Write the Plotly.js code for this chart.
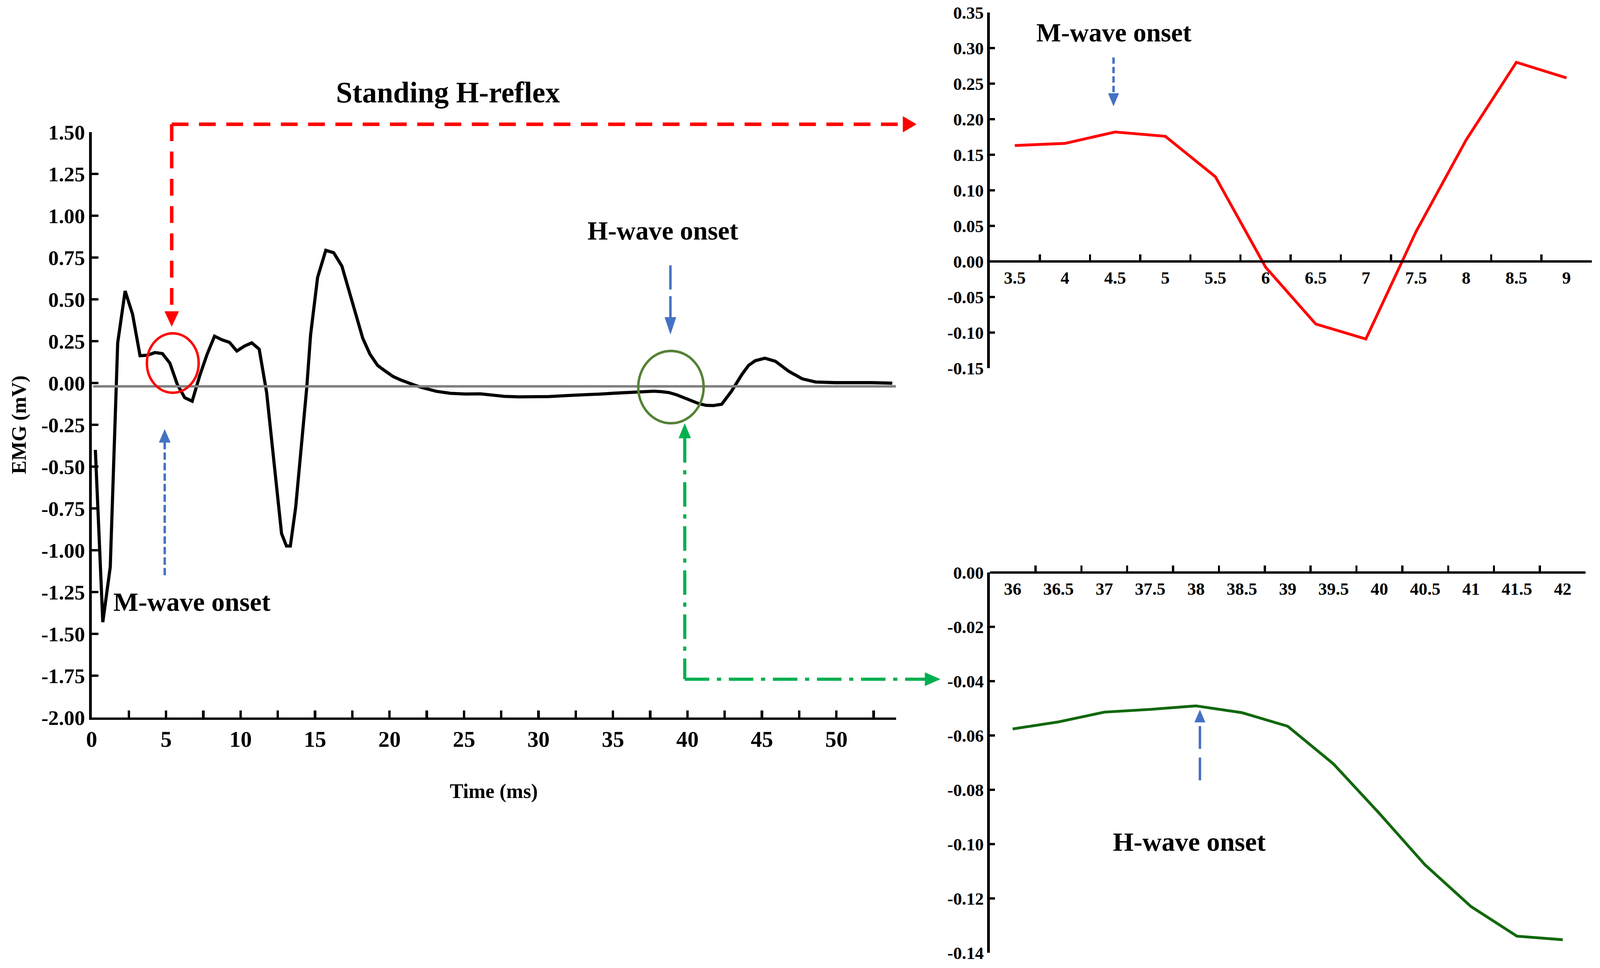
<!DOCTYPE html>
<html>
<head>
<meta charset="utf-8">
<script src="https://cdn.plot.ly/plotly-3.0.1.min.js"></script>
<style>
  html, body { margin: 0; padding: 0; background: #fff; overflow: hidden; }
</style>
</head>
<body>
<div id="chart"></div>
<script>
// main trace: standing H-reflex EMG (ms, mV)
const mainTime = [0.25, 0.75, 1.25, 1.75, 2.25, 2.75, 3.25, 3.75, 4.25, 4.75, 5.25, 5.75, 6.25,
  6.75, 7.25, 7.75, 8.25, 8.75, 9.25, 9.75, 10.25, 10.75, 11.25, 11.75, 12.25, 12.75,
  13.08, 13.34, 13.7, 14.1, 14.44, 14.7, 15.17, 15.72, 16.25, 16.8, 17.3, 17.75, 18.2, 18.68,
  19.2, 19.7, 20.25, 20.75, 21.3, 21.75, 22.2, 22.6, 23.15,
  24.1, 25.1, 26.1, 27.1, 27.7, 28.7, 29.7, 30.7, 32.0, 33.1, 34.2, 35.1,
  35.75, 36.25, 36.75, 37.25, 37.75, 38.25, 38.75, 39.25, 39.75, 40.25, 40.75, 41.25, 41.75,
  42.3, 42.95, 43.65, 44.1, 44.55, 45.2, 45.9, 46.8, 47.7, 48.6, 49.9, 50.6, 51.3, 52.4, 53.75];
const mainEmg = [-0.40, -1.43, -1.10, 0.24, 0.55, 0.41, 0.163, 0.166, 0.182, 0.176, 0.119, -0.008, -0.088,
  -0.109, 0.042, 0.171, 0.280, 0.258, 0.243, 0.191, 0.220, 0.240, 0.202, -0.058, -0.48, -0.90,
  -0.975, -0.975, -0.742, -0.36, -0.03, 0.288, 0.631, 0.793, 0.779, 0.699, 0.544, 0.40, 0.268, 0.173,
  0.105, 0.072, 0.038, 0.018, -0.002, -0.015, -0.028, -0.038, -0.05,
  -0.062, -0.066, -0.065, -0.075, -0.08, -0.083, -0.084, -0.081, -0.075, -0.072, -0.066, -0.061,
  -0.058, -0.055, -0.051, -0.050, -0.049, -0.052, -0.057, -0.070, -0.089, -0.108, -0.123, -0.134, -0.135,
  -0.127, -0.05, 0.05, 0.105, 0.133, 0.148, 0.13, 0.07, 0.025, 0.006, 0.002, 0.002, 0.006, 0.002, -0.001];
const baseTime = [0.1, 54];
const baseEmg = [-0.02, -0.02];

// zoomed M-wave window
const mTime = ['3.5', '4', '4.5', '5', '5.5', '6', '6.5', '7', '7.5', '8', '8.5', '9'];
const mEmg = [0.163, 0.166, 0.182, 0.176, 0.119, -0.008, -0.088, -0.109, 0.042, 0.171, 0.280, 0.258];

// zoomed H-wave window
const hTime = ['36', '36.5', '37', '37.5', '38', '38.5', '39', '39.5', '40', '40.5', '41', '41.5', '42'];
const hEmg = [-0.0576, -0.0550, -0.0514, -0.0504, -0.0491, -0.0516, -0.0566, -0.0705, -0.0887,
  -0.1077, -0.1230, -0.1339, -0.1352];

// tick values
const mainYTicks = [-2, -1.75, -1.5, -1.25, -1, -0.75, -0.5, -0.25, 0, 0.25, 0.5, 0.75, 1, 1.25, 1.5];
const mYTicks = [-0.15, -0.1, -0.05, 0, 0.05, 0.1, 0.15, 0.2, 0.25, 0.3, 0.35];
const hYTicks = [-0.14, -0.12, -0.1, -0.08, -0.06, -0.04, -0.02, 0];

// everything is placed on a 4575x2477 grid, the figure fills the real viewport
const W = 4575, H = 2477;
const vw = window.innerWidth, vh = window.innerHeight;
const s = Math.min(vw / W, vh / H);
const z = v => v * s;
const px = x => x / W;
const py = y => 1 - y / H;

const SERIF = 'Liberation Serif, Times New Roman, serif';
const font = (size) => ({family: SERIF, size: z(size), color: '#000', weight: 'bold'});
const dash = (...parts) => parts.map((p)=>z(p) + 'px').join(',');

function yTicks(vals){
    return {tickmode: 'array', tickvals: vals, ticktext: vals.map((v)=>v.toFixed(2))};
}

const axisBase = {
    showline: true, linecolor: '#000', linewidth: z(7),
    tickcolor: '#000', tickwidth: z(7),
    showgrid: false, zeroline: false, automargin: false, fixedrange: true
};

const traces = [
    {x: mainTime, y: mainEmg, xaxis: 'x', yaxis: 'y', type: 'scatter', mode: 'lines',
        line: {color: '#000', width: z(9)}},
    {x: baseTime, y: baseEmg, xaxis: 'x', yaxis: 'y', type: 'scatter', mode: 'lines',
        line: {color: '#7f7f7f', width: z(7)}},
    {x: mTime, y: mEmg, xaxis: 'x2', yaxis: 'y2', type: 'scatter', mode: 'lines',
        line: {color: '#ff0000', width: z(8)}},
    {x: hTime, y: hEmg, xaxis: 'x3', yaxis: 'y3', type: 'scatter', mode: 'lines',
        line: {color: '#11680d', width: z(8)}}
];

// position of the value 0 inside the top inset y domain
const y2Dom = [py(942), py(32)];
const y2Zero = y2Dom[0] + (0 - (-0.15)) / 0.5 * (y2Dom[1] - y2Dom[0]);

const layout = {
    width: vw, height: vh,
    margin: {l: 0, r: 0, t: 0, b: 0},
    paper_bgcolor: '#fff', plot_bgcolor: 'rgba(0,0,0,0)',
    showlegend: false,
    title: {text: 'Standing H-reflex', font: font(84), x: px(1281), y: py(236),
        xref: 'paper', yref: 'paper', xanchor: 'center', yanchor: 'middle'},
    xaxis: Object.assign({}, axisBase, {
        domain: [px(262), px(2562)], range: [0, 54], anchor: 'y',
        tick0: 0, dtick: 5, ticks: 'inside', ticklen: z(20),
        minor: {dtick: 2.5, ticks: 'inside', ticklen: z(20), tickwidth: z(7), tickcolor: '#000', showgrid: false},
        tickfont: font(64), ticklabelstandoff: z(0),
        title: {text: 'Time (ms)', font: font(58), standoff: z(96)}
    }),
    yaxis: Object.assign({}, axisBase, yTicks(mainYTicks), {
        domain: [py(1836), py(338)], range: [-2, 1.5], anchor: 'x',
        ticks: 'inside', ticklen: z(20),
        tickfont: font(60), ticklabelstandoff: z(28),
        title: {text: 'EMG (mV)', font: font(58), standoff: z(28)}
    }),
    xaxis2: Object.assign({}, axisBase, {
        domain: [px(2830), px(4551)], type: 'category',
        categoryorder: 'array', categoryarray: mTime, range: [-0.5, 11.5],
        anchor: 'free', position: y2Zero, side: 'bottom',
        tickson: 'boundaries', ticks: 'inside', ticklen: z(17), tickwidth: z(6),
        tickfont: font(50), ticklabelstandoff: z(16)
    }),
    yaxis2: Object.assign({}, axisBase, yTicks(mYTicks), {
        domain: y2Dom, range: [-0.15, 0.35], anchor: 'x2',
        ticks: 'inside', ticklen: z(15), tickwidth: z(6),
        tickfont: font(50), ticklabelstandoff: z(28)
    }),
    xaxis3: Object.assign({}, axisBase, {
        domain: [px(2830), px(4534)], type: 'category',
        categoryorder: 'array', categoryarray: hTime, range: [-0.5, 12.5],
        anchor: 'free', position: py(1465), side: 'bottom',
        tickson: 'boundaries', ticks: 'inside', ticklen: z(17), tickwidth: z(6),
        tickfont: font(50), ticklabelstandoff: z(19)
    }),
    yaxis3: Object.assign({}, axisBase, yTicks(hYTicks), {
        domain: [py(2438), py(1465)], range: [-0.14, 0], anchor: 'x3',
        ticks: 'inside', ticklen: z(15), tickwidth: z(6),
        tickfont: font(50), ticklabelstandoff: z(18)
    }),
    shapes: [],
    annotations: []
};

// ---- decorations (positions on the 4575x2477 grid) ----
function seg(x0, y0, x1, y1, color, width, dashStr){
    return {type: 'line', xref: 'paper', yref: 'paper',
        x0: px(x0), y0: py(y0), x1: px(x1), y1: py(y1),
        line: {color: color, width: z(width), dash: dashStr}};
}
// filled triangle: tip at (tx,ty), dir = 'up','down','right'
function head(tx, ty, dir, len, half, color){
    let pts;
    if(dir == 'down') pts = [[tx, ty], [tx - half, ty - len], [tx + half, ty - len]];
    else if(dir == 'up') pts = [[tx, ty], [tx - half, ty + len], [tx + half, ty + len]];
    else pts = [[tx, ty], [tx - len, ty - half], [tx - len, ty + half]];
    const d = 'M' + pts.map((p)=>px(p[0]) + ',' + py(p[1])).join(' L') + ' Z';
    return {type: 'path', xref: 'paper', yref: 'paper', path: d,
        fillcolor: color, line: {color: color, width: z(1)}};
}
function ring(x0, y0, x1, y1, color, width){
    return {type: 'circle', xref: 'paper', yref: 'paper',
        x0: px(x0), x1: px(x1), y0: py(y1), y1: py(y0),
        line: {color: color, width: z(width)}, fillcolor: 'rgba(0,0,0,0)'};
}

const RED = '#ff0000', BLUE = '#4472c4', GREEN = '#00b050', OLIVE = '#548235';

layout.shapes.push(
    // red dashed link to the M-wave window
    seg(491, 318, 491, 797, RED, 10, dash(48, 30)),
    head(491, 835, 'down', 38, 20, RED),
    seg(491, 318, 2582, 318, RED, 10, dash(48, 30)),
    head(2620, 318, 'right', 38, 20, RED),
    // green dash-dot link to the H-wave window
    seg(1958, 1121, 1958, 1738, GREEN, 9, dash(70, 22, 12, 22)),
    head(1958, 1084, 'up', 37, 17, GREEN),
    seg(1958, 1738, 2645, 1738, GREEN, 9, dash(70, 22, 12, 22)),
    head(2688, 1738, 'right', 43, 17, GREEN),
    // blue onset arrows
    seg(471, 1472, 471, 1132, BLUE, 7, dash(21, 9)),
    head(471, 1099, 'up', 33, 16, BLUE),
    seg(1917, 679, 1917, 812, BLUE, 7, dash(69, 19)),
    head(1917, 855, 'down', 43, 16, BLUE),
    seg(3184, 147, 3184, 239, BLUE, 7, dash(18, 9)),
    head(3184, 271, 'down', 32, 15, BLUE),
    seg(3431, 1858, 3431, 2013, BLUE, 7, dash(65, 25)),
    head(3431, 1817, 'up', 31, 15, BLUE),
    // circles
    ring(420, 853, 568, 1005, RED, 7),
    ring(1825, 898, 2012, 1083, OLIVE, 7)
);

function label(text, x, y, size){
    return {text: text, xref: 'paper', yref: 'paper', x: px(x), y: py(y),
        xanchor: 'center', yanchor: 'middle', showarrow: false, font: font(size)};
}
layout.annotations.push(
    label('M-wave onset', 549, 1540, 76),
    label('H-wave onset', 1896, 590, 75),
    label('M-wave onset', 3186, 83, 75),
    label('H-wave onset', 3400, 2154, 76)
);

Plotly.newPlot('chart', traces, layout, {displayModeBar: false, staticPlot: true});
</script>
</body>
</html>
